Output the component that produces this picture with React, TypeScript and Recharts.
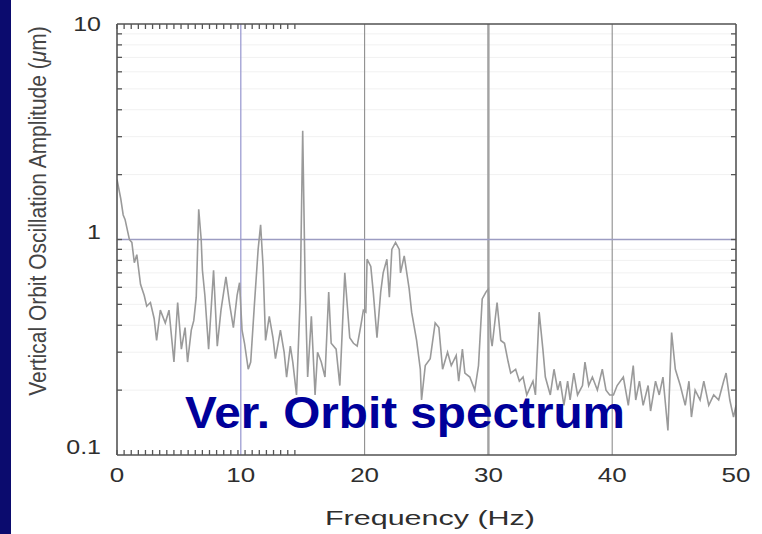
import React from 'react';
import { LineChart, Line, XAxis, YAxis, ReferenceLine, CartesianGrid } from 'recharts';

// Vertical orbit amplitude spectrum (frequency in Hz, amplitude in µm)
const freqHz = [
  0, 0.3, 0.5, 0.65, 1.0, 1.2, 1.4, 1.6, 1.9, 2.2,
  2.4, 2.7, 3.0, 3.2, 3.5, 3.9, 4.2, 4.6, 4.9, 5.2,
  5.5, 5.7, 6.0, 6.2, 6.4, 6.6, 6.8, 6.9, 7.1, 7.4,
  7.8, 8.1, 8.4, 8.8, 9.1, 9.4, 9.7, 9.9, 10.1, 10.3,
  10.6, 10.8, 11.1, 11.4, 11.6, 11.8, 12.0, 12.3, 12.6, 12.8,
  13.2, 13.5, 13.7, 14.0, 14.2, 14.5, 14.8, 15.0, 15.2, 15.4,
  15.7, 16.0, 16.2, 16.5, 16.8, 17.1, 17.3, 17.7, 18.0, 18.4,
  18.8, 19.1, 19.4, 19.7, 19.9, 20.1, 20.2, 20.5, 20.7, 21.0,
  21.3, 21.5, 21.8, 22.0, 22.2, 22.5, 22.8, 22.9, 23.2, 23.6,
  23.8, 24.2, 24.5, 24.6, 24.9, 25.3, 25.7, 26.0, 26.3, 26.7,
  27.0, 27.4, 27.6, 27.9, 28.1, 28.5, 28.9, 29.2, 29.5, 29.8,
  30.0, 30.2, 30.3, 30.7, 31.0, 31.3, 31.6, 31.8, 32.2, 32.5,
  32.8, 33.1, 33.6, 33.8, 34.1, 34.4, 34.6, 35.0, 35.3, 35.6,
  35.8, 36.1, 36.4, 36.6, 36.9, 37.2, 37.6, 37.8, 38.1, 38.4,
  38.8, 39.2, 39.5, 39.8, 40.1, 40.4, 40.9, 41.3, 41.7, 41.9,
  42.2, 42.5, 42.9, 43.1, 43.5, 43.8, 44.1, 44.5, 44.8, 45.1,
  45.5, 45.9, 46.2, 46.4, 46.7, 47.1, 47.4, 47.8, 48.2, 48.6,
  49.0, 49.2, 49.5, 49.8, 50.0,
];

const ampUm = [
  1.9, 1.55, 1.3, 1.24, 1.0, 0.97, 0.78, 0.85, 0.62, 0.55,
  0.49, 0.51, 0.43, 0.34, 0.47, 0.41, 0.47, 0.27, 0.51, 0.31,
  0.39, 0.27, 0.38, 0.42, 0.54, 1.38, 1.0, 0.72, 0.55, 0.31,
  0.72, 0.32, 0.47, 0.67, 0.5, 0.39, 0.55, 0.63, 0.38, 0.33,
  0.25, 0.27, 0.5, 0.9, 1.17, 0.75, 0.34, 0.44, 0.35, 0.28,
  0.38, 0.3, 0.23, 0.32, 0.27, 0.19, 0.54, 3.2, 0.6, 0.23,
  0.44, 0.19, 0.3, 0.27, 0.23, 0.57, 0.33, 0.31, 0.21, 0.7,
  0.35, 0.33, 0.32, 0.4, 0.47, 0.46, 0.81, 0.75, 0.57, 0.35,
  0.57, 0.7, 0.81, 0.54, 0.9, 0.97, 0.9, 0.7, 0.84, 0.59,
  0.46, 0.34, 0.25, 0.18, 0.26, 0.28, 0.41, 0.39, 0.25, 0.3,
  0.26, 0.29, 0.22, 0.31, 0.24, 0.23, 0.2, 0.26, 0.53, 0.57,
  0.59, 0.35, 0.32, 0.51, 0.34, 0.33, 0.27, 0.24, 0.25, 0.22,
  0.23, 0.19, 0.22, 0.19, 0.46, 0.31, 0.23, 0.19, 0.25, 0.2,
  0.22, 0.17, 0.22, 0.18, 0.24, 0.19, 0.21, 0.27, 0.21, 0.23,
  0.2, 0.25, 0.2, 0.19, 0.19, 0.21, 0.23, 0.17, 0.26, 0.18,
  0.22, 0.17, 0.21, 0.16, 0.22, 0.19, 0.23, 0.13, 0.37, 0.25,
  0.21, 0.17, 0.22, 0.15, 0.2, 0.18, 0.22, 0.17, 0.19, 0.18,
  0.22, 0.24, 0.18, 0.15, 0.17,
];

const xTicks = [0, 10, 20, 30, 40, 50];
const xMinorTicks = [0, 2, 4, 6, 8, 10, 12, 14, 16, 18, 20, 22, 24, 26, 28, 30, 32, 34, 36, 38, 40, 42, 44, 46, 48, 50];
const yTicks = [0.1, 1, 10];
const yMinorTicks = [0.2, 0.3, 0.4, 0.5, 0.6, 0.7, 0.8, 0.9, 1, 2, 3, 4, 5, 6, 7, 8, 9];
const yTickLabels: Record<string, string> = { '0.1': '0.1', '1': '1', '10': '10' };

const titleText = 'Ver. Orbit spectrum';
const xTitle = 'Frequency (Hz)';

const data = freqHz.map((f, i) => ({ f, a: ampUm[i] }));

const FONT = '"Liberation Sans", Arial, Helvetica, sans-serif';
const FRAME = '#555555';

const XTick = (props: any) => {
  const { x, y, payload } = props;
  return (
    <text
      transform={`translate(${x},${y}) scale(1.3,1)`}
      textAnchor="middle"
      dy="0.71em"
      fontSize={20}
      fontFamily={FONT}
      fill="#2e2e2e"
    >
      {payload.value}
    </text>
  );
};

const YTick = (props: any) => {
  const { x, y, payload } = props;
  const cy = Math.max(y - 8, 24);
  return (
    <text
      transform={`translate(${x},${cy}) scale(1.25,1)`}
      textAnchor="end"
      dy="0.355em"
      fontSize={20}
      fontFamily={FONT}
      fill="#2e2e2e"
    >
      {yTickLabels[String(payload.value)]}
    </text>
  );
};

// minor tick axes draw only their tick marks
const NoLabel = () => <g />;

export default function App() {
  return (
    <div style={{ position: 'absolute', left: 0, top: 0, width: 762, height: 534, background: '#ffffff', overflow: 'hidden' }}>
      <div style={{ position: 'absolute', left: 0, top: 0, width: 11, height: 534, background: '#0b0b6e' }} />
      <div style={{ position: 'absolute', left: 0, top: 0 }}>
        <LineChart width={762} height={534} data={data} margin={{ top: 24, right: 26, bottom: 49, left: 57 }}>
          <CartesianGrid xAxisId="minB" yAxisId="minL" vertical={false} stroke="#f1f1f1" />
          <XAxis
            xAxisId="main"
            type="number"
            dataKey="f"
            domain={[0, 50]}
            ticks={xTicks}
            interval={0}
            allowDataOverflow
            height={30}
            tickSize={0}
            tickMargin={13}
            tickLine={false}
            tick={<XTick />}
            axisLine={{ stroke: FRAME, strokeWidth: 1.6 }}
          />
          <XAxis
            xAxisId="minB"
            type="number"
            domain={[0, 50]}
            ticks={xMinorTicks}
            interval={0}
            allowDataOverflow
            mirror
            tick={<NoLabel />}
            tickSize={5}
            tickLine={{ stroke: FRAME, strokeWidth: 1.3 }}
            axisLine={false}
          />
          <XAxis
            xAxisId="minT"
            orientation="top"
            type="number"
            domain={[0, 50]}
            ticks={xMinorTicks}
            interval={0}
            allowDataOverflow
            mirror
            tick={<NoLabel />}
            tickSize={5}
            tickLine={{ stroke: FRAME, strokeWidth: 1.3 }}
            axisLine={{ stroke: FRAME, strokeWidth: 1.6 }}
          />
          <YAxis
            yAxisId="main"
            scale="log"
            domain={[0.1, 10]}
            ticks={yTicks}
            interval={0}
            allowDataOverflow
            width={60}
            tickSize={0}
            tickMargin={16}
            tickLine={false}
            tick={<YTick />}
            axisLine={{ stroke: FRAME, strokeWidth: 1.6 }}
          />
          <YAxis
            yAxisId="minL"
            scale="log"
            domain={[0.1, 10]}
            ticks={yMinorTicks}
            interval={0}
            allowDataOverflow
            mirror
            tick={<NoLabel />}
            tickSize={5}
            tickLine={{ stroke: FRAME, strokeWidth: 1.3 }}
            axisLine={false}
          />
          <YAxis
            yAxisId="minR"
            orientation="right"
            scale="log"
            domain={[0.1, 10]}
            ticks={yMinorTicks}
            interval={0}
            allowDataOverflow
            mirror
            tick={<NoLabel />}
            tickSize={5}
            tickLine={{ stroke: FRAME, strokeWidth: 1.3 }}
            axisLine={{ stroke: FRAME, strokeWidth: 1.6 }}
          />
          <ReferenceLine xAxisId="main" yAxisId="main" x={10} stroke="#9d9dd2" strokeWidth={1.3} />
          <ReferenceLine xAxisId="main" yAxisId="main" x={20} stroke="#8e8e8e" strokeWidth={1.1} />
          <ReferenceLine xAxisId="main" yAxisId="main" x={30} stroke="#a2a2a2" strokeWidth={2.4} />
          <ReferenceLine xAxisId="main" yAxisId="main" x={40} stroke="#8e8e8e" strokeWidth={1.1} />
          <ReferenceLine xAxisId="main" yAxisId="main" y={1} stroke="#9c9cc2" strokeWidth={1.3} />
          <Line
            xAxisId="main"
            yAxisId="main"
            type="linear"
            dataKey="a"
            stroke="#9a9a9a"
            strokeWidth={1.6}
            dot={false}
            activeDot={false}
            isAnimationActive={false}
          />
        </LineChart>
      </div>
      <svg width={762} height={534} style={{ position: 'absolute', left: 0, top: 0 }}>
        <text
          transform="translate(46,211) scale(1.15,1) rotate(-90)"
          textAnchor="middle"
          fontSize={21}
          fontFamily={FONT}
          fill="#444444"
        >
          Vertical Orbit Oscillation Amplitude (<tspan fontStyle="italic">μ</tspan>m)
        </text>
        <text
          x={430}
          y={525}
          textAnchor="middle"
          fontSize={21}
          fontFamily={FONT}
          fill="#2e2e2e"
          textLength={210}
          lengthAdjust="spacingAndGlyphs"
        >
          {xTitle}
        </text>
        <text
          x={185}
          y={428}
          fontSize={44}
          fontWeight="bold"
          fontFamily={FONT}
          fill="#00009a"
          textLength={440}
          lengthAdjust="spacingAndGlyphs"
        >
          {titleText}
        </text>
      </svg>
    </div>
  );
}
